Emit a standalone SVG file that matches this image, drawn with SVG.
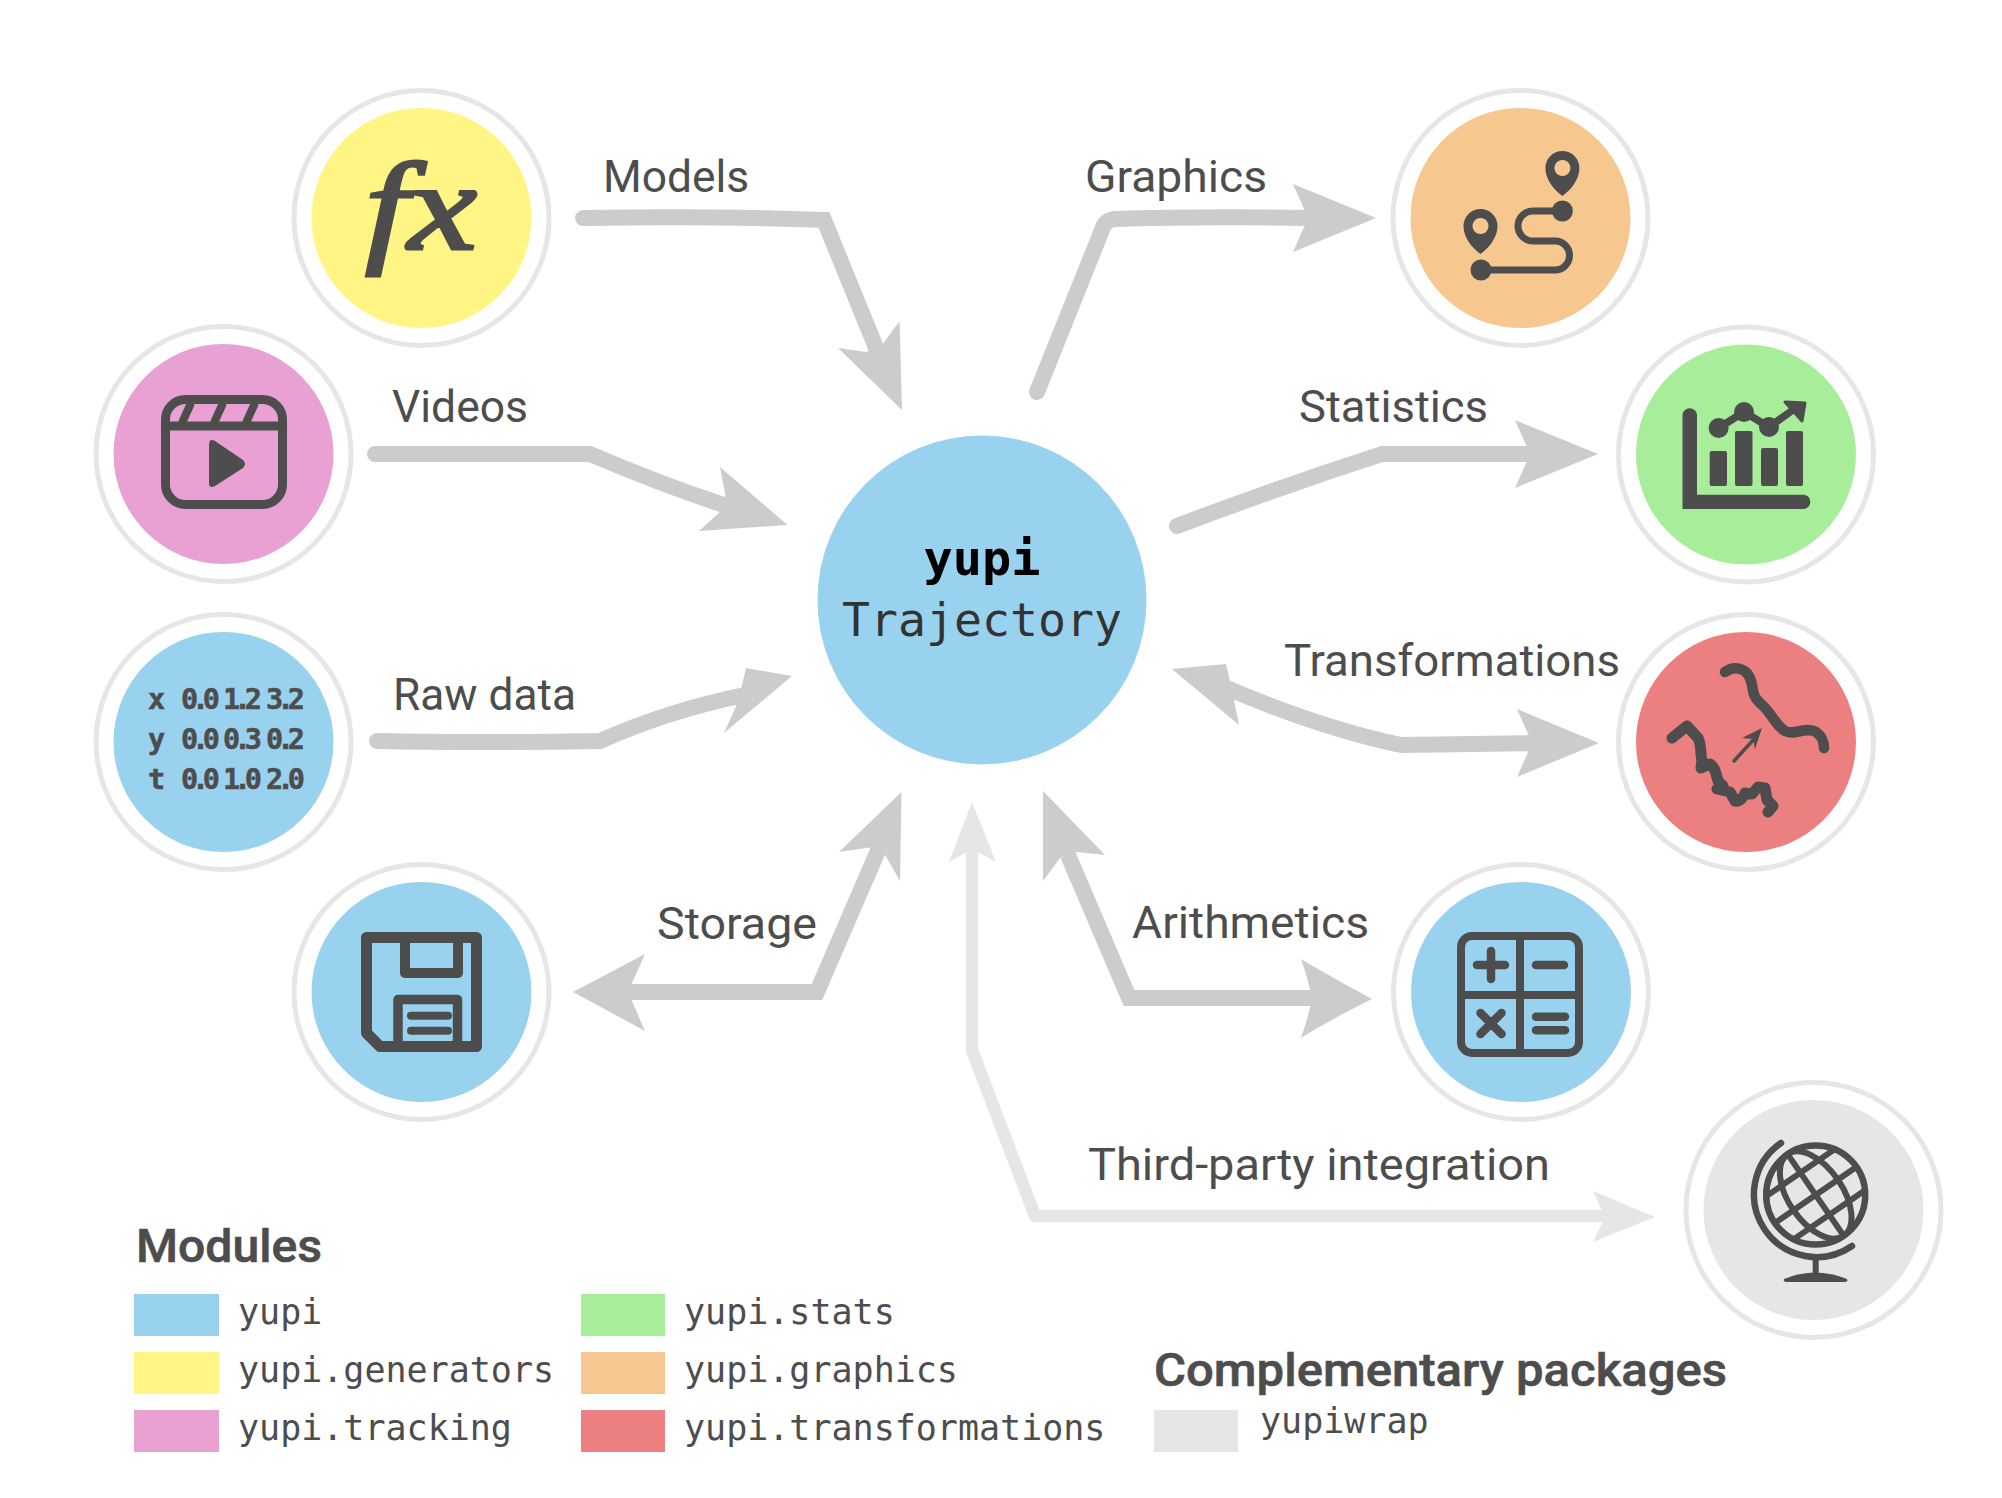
<svg xmlns="http://www.w3.org/2000/svg" width="2002" height="1498" viewBox="0 0 2002 1498">
<style>
.ring{fill:none;stroke:#e6e6e6;stroke-width:5}
.blue{fill:#99d2ee}.yellow{fill:#fff585}.pink{fill:#e9a0d2}.orange{fill:#f6c88f}.green{fill:#a8ed9a}.red{fill:#ec7f7f}.gray{fill:#e6e6e6}
.shaft{fill:none;stroke:#ccc;stroke-width:16;stroke-linejoin:miter}
.shaftl{fill:none;stroke:#e6e6e6;stroke-width:12.5;stroke-linejoin:round}
.head{fill:#ccc}.headl{fill:#e6e6e6}
.rc{stroke-linecap:round}
.lab{font-family:"Roboto","Liberation Sans",sans-serif;font-size:44px;fill:#4d4d4d}
.title{font-family:"Roboto","Liberation Sans",sans-serif;font-size:46px;font-weight:500;fill:#4d4d4d;stroke:#4d4d4d;stroke-width:.6}
.mono{font-family:"DejaVu Sans Mono","Liberation Mono",monospace;font-size:35px;fill:#4d4d4d}
.data{font-family:"DejaVu Sans Mono","Liberation Mono",monospace;font-size:28.5px;font-weight:700;fill:#4d4d4d;stroke:#4d4d4d;stroke-width:.5}
.ic{fill:none;stroke:#4d4d4d;stroke-linecap:round;stroke-linejoin:round}
.if{fill:#4d4d4d}
</style>
<rect width="2002" height="1498" fill="#fff"/>
<g id="connectors">
<path class="shaftl" d="M972 845V1050L1035 1216H1610"/>
<polygon class="headl" points="972,802 996,862 972,849 949,862"/>
<polygon class="headl" points="1655,1217 1593,1191 1605,1217 1593,1242"/>
<path class="shaft rc" d="M583 218Q720 216 824 220L877 350"/>
<polygon class="head" points="902,410 899.6,321 882,345 866,352 838,348"/>
<path class="shaft rc" d="M375 454H590Q660 484 724 505"/>
<polygon class="head" points="787.6,525 720,467 725.5,496 720,512 699,531"/>
<path class="shaft rc" d="M377 741Q480 743 600 741Q670 710 745 695"/>
<polygon class="head" points="792,676 724,733 738,702 746,668"/>
<path class="shaft rc" d="M1037 392L1104 225Q1107 220 1115 219Q1200 216 1310 218"/>
<polygon class="head" points="1376,218 1293,184 1308,218 1293,252"/>
<path class="shaft rc" d="M1177 526Q1280 487 1382 454H1530"/>
<polygon class="head" points="1598,454 1515,420 1530,454 1515,488"/>
<path class="shaft" d="M1222 686Q1320 728 1401 745L1535 743"/>
<polygon class="head" points="1172,669 1239,725 1232,690 1226,664"/>
<polygon class="head" points="1599,743 1517,709 1532,743 1517,777"/>
<path class="shaft" d="M628 992H817L880 846"/>
<polygon class="head" points="573,992 645,954 628,992 645,1031"/>
<polygon class="head" points="901.5,792 900,881 880,846 839,852"/>
<path class="shaft" d="M1068 855L1129 998H1315"/>
<polygon class="head" points="1043,791 1043,881 1060,858 1077,852 1105,855"/>
<path class="head" d="M1372 999Q1326 974 1301 959Q1309 982 1312 998Q1309 1015 1301 1038Q1326 1022 1372 999Z"/>
</g>
<g id="node-center"><circle class="blue" cx="982" cy="600" r="164.5"/>
<text x="982" y="575" text-anchor="middle" style="font-family:'DejaVu Sans Mono','Liberation Mono',monospace;font-size:48.5px;font-weight:700" fill="#000">yupi</text>
<text x="982" y="636" text-anchor="middle" style="font-family:'DejaVu Sans Mono','Liberation Mono',monospace;font-size:46.5px" fill="#333">Trajectory</text></g>
<g id="node-models"><circle class="ring" cx="421.5" cy="218" r="127.5"/><circle class="yellow" cx="421.5" cy="218" r="110"/>
<text x="365" y="249" style="font-family:'Liberation Serif',serif;font-style:italic;font-size:124px" fill="#4d4d4d" stroke="#4d4d4d" stroke-width="3" textLength="112" lengthAdjust="spacingAndGlyphs">fx</text></g>
<g id="node-videos"><circle class="ring" cx="223.5" cy="454" r="127.5"/><circle class="pink" cx="223.5" cy="454" r="110"/>
<rect class="ic" x="165.5" y="399.5" width="117" height="105" rx="20" stroke-width="9"/>
<path class="ic" stroke-width="9" d="M166 426H282"/>
<path class="ic" stroke-width="8" style="stroke-linecap:butt" d="M191 403L182 423M223 403L214 423M255 403L246 423"/>
<path class="if" d="M209 445Q209 438 215 441L243 460Q247 464 243 468L215 486Q209 489 209 483Z"/></g>
<g id="node-rawdata"><circle class="ring" cx="223.5" cy="742" r="127.5"/><circle class="blue" cx="223.5" cy="742" r="110"/>
<text class="data" x="148" y="709">x</text><text class="data" x="181" y="709" textLength="39" lengthAdjust="spacing">0.0</text><text class="data" x="223" y="709" textLength="39" lengthAdjust="spacing">1.2</text><text class="data" x="266" y="709" textLength="39" lengthAdjust="spacing">3.2</text>
<text class="data" x="148" y="749">y</text><text class="data" x="181" y="749" textLength="39" lengthAdjust="spacing">0.0</text><text class="data" x="223" y="749" textLength="39" lengthAdjust="spacing">0.3</text><text class="data" x="266" y="749" textLength="39" lengthAdjust="spacing">0.2</text>
<text class="data" x="148" y="789">t</text><text class="data" x="181" y="789" textLength="39" lengthAdjust="spacing">0.0</text><text class="data" x="223" y="789" textLength="39" lengthAdjust="spacing">1.0</text><text class="data" x="266" y="789" textLength="39" lengthAdjust="spacing">2.0</text></g>
<g id="node-storage"><circle class="ring" cx="421.5" cy="992" r="127.5"/><circle class="blue" cx="421.5" cy="992" r="110"/>
<path class="ic" stroke-width="11" d="M366.5 937.5H476.5V1046.5H380L366.5 1033Z"/>
<path class="ic" stroke-width="10" d="M405 938V973H458V938"/>
<path class="ic" stroke-width="9.5" d="M398 1047V999.5H457.5V1047"/>
<path class="ic" stroke-width="8" d="M411 1015.7H448M411 1030.7H448"/></g>
<g id="node-graphics"><circle class="ring" cx="1520.5" cy="218" r="127.5"/><circle class="orange" cx="1520.5" cy="218" r="110"/>
<path class="if" fill-rule="evenodd" d="M1562.4 196C1553 189 1545.4 179 1545.4 168A17 17 0 0 1 1579.4 168C1579.4 179 1572 189 1562.4 196ZM1562.4 160a8 8 0 1 0 .01 0Z"/>
<path class="if" fill-rule="evenodd" d="M1480.5 254C1471 247 1463.5 237 1463.5 226A17 17 0 0 1 1497.5 226C1497.5 237 1490 247 1480.5 254ZM1480.5 218a8 8 0 1 0 .01 0Z"/>
<circle class="if" cx="1562.4" cy="211" r="10.5"/><circle class="if" cx="1481" cy="270" r="10.5"/>
<path class="ic" stroke-width="7" d="M1562 211H1533A15 15 0 0 0 1533 241H1555A14.5 14.5 0 0 1 1555 270H1481"/></g>
<g id="node-statistics"><circle class="ring" cx="1746" cy="454.5" r="127.5"/><circle class="green" cx="1746" cy="454.5" r="110"/>
<g transform="translate(2 0)">
<path class="if" d="M1680.5 415.5a7.25 7.25 0 0 1 14.5 0V494.7H1802a7.2 7.2 0 0 1 0 14.3H1680.5Z"/>
<rect class="if" x="1707.7" y="451" width="17.3" height="35" rx="2"/><rect class="if" x="1733" y="431" width="17.5" height="55" rx="2"/><rect class="if" x="1759" y="448" width="17" height="38" rx="2"/><rect class="if" x="1784" y="431" width="17" height="55" rx="2"/>
<path class="ic" stroke-width="7.5" d="M1716.6 428L1742 412L1767 427L1795 407"/>
<circle class="if" cx="1716.6" cy="428" r="10"/><circle class="if" cx="1742" cy="412" r="10"/><circle class="if" cx="1767" cy="427" r="10"/>
<path class="if" stroke="#4d4d4d" stroke-width="3" stroke-linejoin="round" d="M1783 402L1803 403L1800 421Z"/></g></g>
<g id="node-transformations"><circle class="ring" cx="1746" cy="742" r="127.5"/><circle class="red" cx="1746" cy="742" r="110"/>
<path class="ic" stroke-width="10.5" d="M1725 672C1733 666 1745 667 1750 678C1754 688 1751 695 1760 703C1772 713 1775 725 1785 731C1794 736 1806 726 1816 732C1823 737 1824 742 1824 748"/>
<path class="ic" stroke-width="11" d="M1672 738L1687 726L1698 738C1702 745 1700 755 1702 760L1701 768L1710 764C1716 768 1716 775 1718 781L1723 786L1717 789L1730 792L1735 801C1740 802 1744 796 1745 793L1752 794L1758 787L1765 788L1767 800L1773 806L1768 812"/>
<path class="ic" stroke-width="3.5" d="M1734 761L1756 737"/>
<polygon class="if" points="1762,728 1742,738 1753,739 1755,749"/></g>
<g id="node-arithmetics"><circle class="ring" cx="1521" cy="992" r="127.5"/><circle class="blue" cx="1521" cy="992" r="110"/>
<rect class="ic" x="1461" y="936" width="118" height="117" rx="11" stroke-width="8"/>
<path class="ic" stroke-width="8" style="stroke-linecap:butt" d="M1520 936V1053M1461 995H1579"/>
<path class="ic" stroke-width="8.5" d="M1477 965H1505M1491 951V979M1536 965H1564M1480.5 1013L1501.5 1034M1501.5 1013L1480.5 1034M1536 1016.7H1565M1536 1030.3H1565"/></g>
<g id="node-third-party"><circle class="ring" cx="1813.5" cy="1210" r="127.5"/><circle class="gray" cx="1813.5" cy="1210" r="110"/>
<circle class="ic" cx="1815.7" cy="1195" r="49.5" stroke-width="6.5"/>
<path class="ic" stroke-width="6.5" d="M1781 1143A62.5 62.5 0 0 0 1852 1246"/>
<path class="ic" stroke-width="6" d="M1815.7 1258V1272"/>
<path class="if" d="M1784 1279Q1815 1266 1847 1279Q1848 1282 1845 1282H1786Q1783 1282 1784 1279Z"/>
<g transform="rotate(-34.5 1815.7 1195)"><path class="ic" stroke-width="6" style="stroke-linecap:butt" d="M1774 1168H1857M1766 1195H1865M1771 1219H1860M1815.7 1146V1244"/><ellipse class="ic" cx="1815.7" cy="1195" rx="27" ry="49.5" stroke-width="6"/></g></g>
<g id="labels">
<text class="lab" x="603" y="192" textLength="146" lengthAdjust="spacingAndGlyphs">Models</text>
<text class="lab" x="392" y="422" textLength="136" lengthAdjust="spacingAndGlyphs">Videos</text>
<text class="lab" x="393" y="710" textLength="183" lengthAdjust="spacingAndGlyphs">Raw data</text>
<text class="lab" x="1085" y="192" textLength="182" lengthAdjust="spacingAndGlyphs">Graphics</text>
<text class="lab" x="1299" y="422" textLength="189" lengthAdjust="spacingAndGlyphs">Statistics</text>
<text class="lab" x="1284" y="676" textLength="336" lengthAdjust="spacingAndGlyphs">Transformations</text>
<text class="lab" x="657" y="939" textLength="160" lengthAdjust="spacingAndGlyphs">Storage</text>
<text class="lab" x="1132" y="938" textLength="237" lengthAdjust="spacingAndGlyphs">Arithmetics</text>
<text class="lab" x="1088" y="1180" textLength="462" lengthAdjust="spacingAndGlyphs">Third-party integration</text>
</g>
<g id="legend">
<text class="title" x="136" y="1262" textLength="186" lengthAdjust="spacingAndGlyphs">Modules</text>
<rect class="blue" x="134" y="1294" width="85" height="42"/><text class="mono" x="238" y="1324">yupi</text>
<rect class="yellow" x="134" y="1352" width="85" height="42"/><text class="mono" x="238" y="1382">yupi.generators</text>
<rect class="pink" x="134" y="1410" width="85" height="42"/><text class="mono" x="238" y="1440">yupi.tracking</text>
<rect class="green" x="581" y="1294" width="84" height="42"/><text class="mono" x="684" y="1324">yupi.stats</text>
<rect class="orange" x="581" y="1352" width="84" height="42"/><text class="mono" x="684" y="1382">yupi.graphics</text>
<rect class="red" x="581" y="1410" width="84" height="42"/><text class="mono" x="684" y="1440">yupi.transformations</text>
<text class="title" x="1154" y="1386" textLength="573" lengthAdjust="spacingAndGlyphs">Complementary packages</text>
<rect class="gray" x="1154" y="1410" width="84" height="42"/><text class="mono" x="1260" y="1433">yupiwrap</text>
</g>
</svg>
